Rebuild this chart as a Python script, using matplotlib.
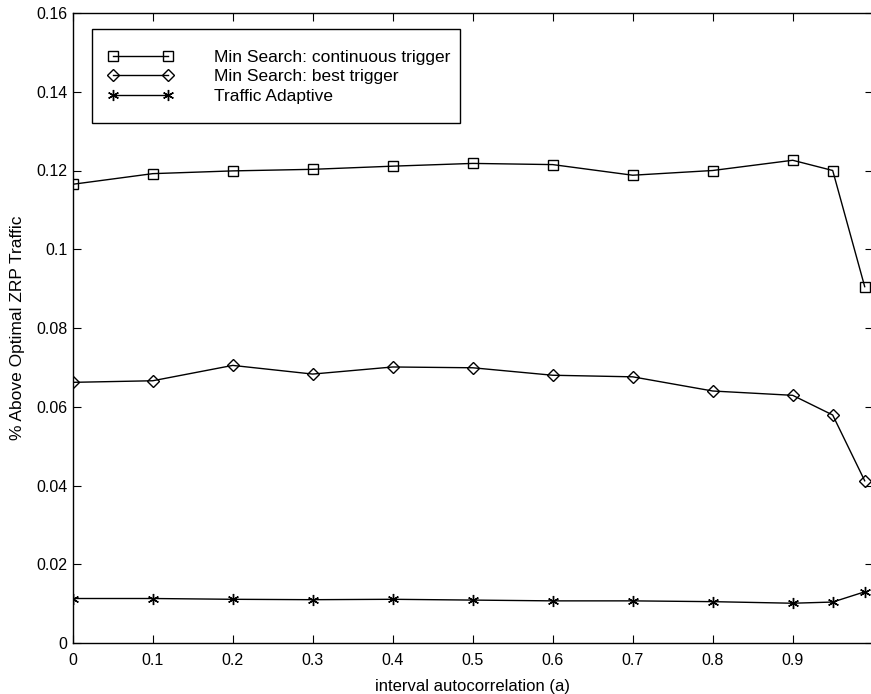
import numpy as np
import matplotlib
matplotlib.use("Agg")
import matplotlib.pyplot as plt
from matplotlib.patches import Rectangle

plt.rcParams['font.family'] = ['Liberation Sans', 'DejaVu Sans']

# interval autocorrelation values
a_vals = [0, 0.1, 0.2, 0.3, 0.4, 0.5, 0.6, 0.7, 0.8, 0.9, 0.95, 0.99]

# % above optimal ZRP traffic
cont_trigger = [0.1165, 0.1192, 0.1199, 0.1203, 0.1211, 0.1218, 0.1215, 0.1188, 0.1200, 0.1226, 0.1200, 0.0905]
best_trigger = [0.0662, 0.0666, 0.0705, 0.0683, 0.0701, 0.0699, 0.0680, 0.0676, 0.0640, 0.0629, 0.0579, 0.0412]
traffic_adapt = [0.0113, 0.0113, 0.0111, 0.0110, 0.0111, 0.0109, 0.0107, 0.0107, 0.0105, 0.0101, 0.0104, 0.0130]

labels = ["Min Search: continuous trigger", "Min Search: best trigger", "Traffic Adaptive"]

fig = plt.figure(figsize=(8.71, 6.94), dpi=100)
ax = fig.add_axes([72.7/871, 1 - 643/694, 800/871, 630/694])

mk = dict(color='k', linewidth=1.0, markerfacecolor='none', markeredgecolor='k', markeredgewidth=1.0)
l1, = ax.plot(a_vals, cont_trigger, marker='s', markersize=7.5, **mk)
l2, = ax.plot(a_vals, best_trigger, marker='D', markersize=6.5, **mk)
l3, = ax.plot(a_vals, traffic_adapt, marker=(6, 2, 0), markersize=8, **mk)

ax.set_xlim(0, 1)
ax.set_ylim(0, 0.16)
ax.set_xticks(np.arange(0, 1.01, 0.1))
ax.set_xticklabels([f"{v:g}" for v in np.round(np.arange(0, 0.91, 0.1), 1)] + [""])
yt = np.round(np.arange(0, 0.161, 0.02), 2)
ax.set_yticks(yt)
ax.set_yticklabels([f"{v:g}" for v in yt])
ax.tick_params(direction='in', top=True, right=True, length=6, width=0.8, labelsize=11.5, pad=4)
ax.tick_params(axis='x', pad=7)
for s in ax.spines.values():
    s.set_linewidth(1.0)

ax.set_xlabel("interval autocorrelation (a)", fontsize=12, labelpad=8)
ax.set_ylabel("% Above Optimal ZRP Traffic", fontsize=12.5, labelpad=8)

# legend with MATLAB-like box
leg = ax.legend([l1, l2, l3], labels, loc='upper left', bbox_to_anchor=(0.035, 0.953),
                frameon=False, numpoints=2, handlelength=3.8, labelspacing=0.25,
                handletextpad=2.3, fontsize=12.5, borderaxespad=0)
x0 = (92 - 72.7) / 800
y0 = (643 - 123) / 630
ax.add_patch(Rectangle((x0, y0), (460 - 92) / 800, (123 - 29) / 630, transform=ax.transAxes,
                       fill=True, facecolor='white', edgecolor='k', linewidth=1.0, zorder=4))
leg.set_zorder(5)

fig.savefig("out.png", dpi=100)
